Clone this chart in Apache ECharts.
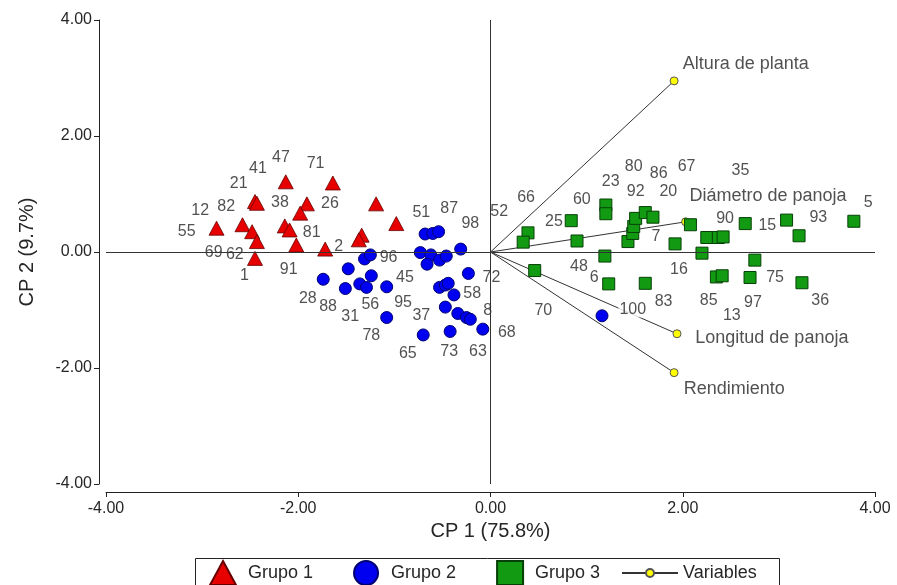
<!DOCTYPE html>
<html>
<head>
<meta charset="utf-8">
<script src="https://cdn.jsdelivr.net/npm/echarts@6/dist/echarts.min.js"></script>
<style>html,body{margin:0;padding:0;background:#fff;}#c{width:897px;height:585px;}</style>
</head>
<body>
<div id="c"></div>
<script>
// Group 1 (red triangles)
const g1X = [-2.85,-2.58,-2.48,-2.43,-2.45,-2.43,-2.45,-2.13,-2.14,-2.09,-2.02,-1.91,-1.98,-1.64,-1.72,-1.19,-0.98,-1.34,-1.37];
const g1Y = [0.41,0.47,0.35,0.18,0.87,0.84,-0.11,1.21,0.45,0.38,0.12,0.83,0.67,1.19,0.05,0.83,0.49,0.29,0.21];
// Group 2 (blue circles)
const g2X = [-1.74,-1.51,-1.48,-1.31,-1.25,-1.36,-1.29,-1.24,-1.08,-1.08,-0.68,-0.60,-0.54,-0.73,-0.62,-0.66,-0.53,-0.46,-0.31,-0.23,-0.53,-0.47,-0.44,-0.38,-0.47,-0.34,-0.25,-0.21,-0.70,-0.42,-0.08,1.16];
const g2Y = [-0.47,-0.63,-0.29,-0.12,-0.05,-0.55,-0.61,-0.41,-0.60,-1.13,0.31,0.32,0.35,-0.01,-0.05,-0.21,-0.14,-0.07,0.05,-0.37,-0.61,-0.57,-0.54,-0.74,-0.95,-1.06,-1.13,-1.16,-1.43,-1.37,-1.33,-1.10];
// Group 3 (green squares)
const g3X = [0.39,0.34,0.46,0.84,0.90,1.20,1.20,1.19,1.23,1.43,1.48,1.49,1.51,1.61,1.69,1.61,1.92,2.08,2.25,2.37,2.42,2.20,2.35,2.41,2.65,2.75,2.70,3.08,3.21,3.24,3.78];
const g3Y = [0.33,0.17,-0.32,0.54,0.19,0.81,0.66,-0.07,-0.55,0.18,0.32,0.44,0.58,0.68,0.60,-0.54,0.14,0.47,0.25,0.25,0.26,-0.02,-0.43,-0.41,0.49,-0.14,-0.44,0.55,0.28,-0.53,0.53];
// Variables (vectors)
const varNames = ['Altura de planta','Diámetro de panoja','Longitud de panoja','Rendimiento'];
const varX = [1.91,2.03,1.94,1.91];
const varY = [2.95,0.52,-1.41,-2.08];
const varLabelX = [1.99,2.06,2.12,2.00];
const varLabelY = [3.24,0.97,-1.48,-2.36];
// Accession labels
const labText = ['55','12','82','21','41','47','71','38','26','81','2','69','62','1','91','96',
  '28','88','31','56','45','95','78','37','65','73','63','68','8','58','72','51','87','98','52',
  '66','25','60','23','80','86','67','92','20','7','48','6','16','70','100','83',
  '35','90','15','93','5','75','85','13','97','36'];
const labX = [-3.16,-3.02,-2.75,-2.62,-2.42,-2.18,-1.82,-2.19,-1.67,-1.86,-1.58,-2.88,-2.66,-2.56,-2.10,-1.06,
  -1.90,-1.69,-1.46,-1.25,-0.89,-0.91,-1.24,-0.72,-0.86,-0.43,-0.13,0.17,-0.03,-0.19,0.01,-0.72,-0.43,-0.21,0.09,
  0.37,0.66,0.95,1.25,1.49,1.75,2.04,1.51,1.85,1.72,0.92,1.08,1.96,0.55,1.48,1.80,
  2.60,2.44,2.88,3.41,3.93,2.96,2.27,2.51,2.73,3.43];
const labY = [0.35,0.72,0.78,1.18,1.43,1.62,1.52,0.85,0.84,0.33,0.10,-0.01,-0.05,-0.40,-0.30,-0.09,
  -0.80,-0.94,-1.12,-0.91,-0.44,-0.88,-1.44,-1.10,-1.76,-1.72,-1.72,-1.39,-1.01,-0.72,-0.44,0.68,0.74,0.49,0.69,
  0.94,0.52,0.90,1.21,1.48,1.36,1.47,1.04,1.04,0.26,-0.25,-0.44,-0.31,-1.01,-0.99,-0.86,
  1.41,0.57,0.45,0.60,0.85,-0.44,-0.84,-1.10,-0.88,-0.84];
const xTicks = {min:-4, max:4, interval:2};
const yTicks = {min:-4, max:4, interval:2};

const FONT = 'Liberation Sans, Arial, sans-serif';
const TXT = '#262626';
const zip = (a,b) => a.map((v,i)=>[v,b[i]]);

const series = [];
series.push({
  name:'zero', type:'scatter', data:[], z:1, silent:true,
  markLine:{silent:true, symbol:'none', label:{show:false},
    lineStyle:{color:'#333', width:1, type:'solid'},
    data:[{xAxis:0},{yAxis:0}]}
});
varNames.forEach((n,i)=>{
  series.push({
    name:'Variables', type:'line', z:2, symbol:'circle', symbolSize:8,
    itemStyle:{color:'#ffff00', borderColor:'#555', borderWidth:1},
    lineStyle:{color:'#333', width:1},
    data:[{value:[0,0], symbol:'none'}, {value:[varX[i], varY[i]]}]
  });
});
series.push({
  name:'labels', type:'scatter', z:3, symbolSize:1, itemStyle:{color:'rgba(0,0,0,0)'},
  data: labText.map((t,i)=>({name:t, value:[labX[i], labY[i]]})),
  label:{show:true, position:'inside', formatter:'{b}', color:TXT, fontFamily:FONT, fontSize:16,
    backgroundColor:'#fff', padding:[0,1]}
});
series.push({
  name:'varlabels', type:'scatter', z:3, symbolSize:1, itemStyle:{color:'rgba(0,0,0,0)'},
  data: varNames.map((t,i)=>({name:t, value:[varLabelX[i], varLabelY[i]]})),
  label:{show:true, position:'inside', align:'left', formatter:'{b}', color:TXT, fontFamily:FONT, fontSize:18,
    backgroundColor:'#fff', padding:[0,1]}
});
series.push({
  name:'Grupo 1', type:'scatter', z:4, symbol:'triangle', symbolSize:[15,14],
  itemStyle:{color:'#e60000', borderColor:'#600', borderWidth:0.8, opacity:1},
  data: zip(g1X,g1Y)
});
series.push({
  name:'Grupo 2', type:'scatter', z:4, symbol:'circle', symbolSize:12,
  itemStyle:{color:'#0000f0', borderColor:'#000070', borderWidth:1, opacity:1},
  data: zip(g2X,g2Y)
});
series.push({
  name:'Grupo 3', type:'scatter', z:4, symbol:'rect', symbolSize:12,
  itemStyle:{color:'#129a12', borderColor:'#064006', borderWidth:1, opacity:1},
  data: zip(g3X,g3Y)
});

const chart = echarts.init(document.getElementById('c'), null, {renderer:'canvas'});
chart.setOption({
  animation:false,
  backgroundColor:'#fff',
  textStyle:{fontFamily:FONT},
  grid:{left:106, right:22, top:20, bottom:101, containLabel:false},
  xAxis:{
    type:'value', min:xTicks.min, max:xTicks.max, interval:xTicks.interval, offset:8,
    name:'CP 1 (75.8%)', nameLocation:'middle', nameGap:28,
    nameTextStyle:{color:TXT, fontSize:20, fontFamily:FONT},
    axisLine:{show:true, onZero:false, lineStyle:{color:'#222', width:1}},
    axisTick:{show:true, inside:false, length:5, lineStyle:{color:'#222'}},
    axisLabel:{color:TXT, fontSize:16, fontFamily:FONT, margin:9, formatter:v=>v.toFixed(2)},
    splitLine:{show:false}
  },
  yAxis:{
    type:'value', min:yTicks.min, max:yTicks.max, interval:yTicks.interval, offset:7,
    name:'CP 2 (9.7%)', nameLocation:'middle', nameGap:62, nameRotate:90,
    nameTextStyle:{color:TXT, fontSize:20, fontFamily:FONT},
    axisLine:{show:true, onZero:false, lineStyle:{color:'#222', width:1}},
    axisTick:{show:true, inside:false, length:5, lineStyle:{color:'#222'}},
    axisLabel:{color:TXT, fontSize:16, fontFamily:FONT, margin:7, formatter:v=>v.toFixed(2)},
    splitLine:{show:false}
  },
  legend:[
    {data:['Grupo 1','Grupo 2','Grupo 3'], left:204, top:555, orient:'horizontal',
     itemWidth:26, itemHeight:24, itemGap:40, selectedMode:false,
     textStyle:{color:TXT, fontSize:18, fontFamily:FONT, padding:[0,0,0,7]}},
    {data:['Variables'], left:616, top:559, itemWidth:56, itemHeight:10, selectedMode:false,
     textStyle:{color:TXT, fontSize:18, fontFamily:FONT, padding:[0,0,0,0]}}
  ],
  graphic:[{type:'rect', left:193, top:556, shape:{width:584, height:40},
    style:{fill:'none', stroke:'#222', lineWidth:1}, silent:true, z:-1}],
  series: series
});
</script>
</body>
</html>
